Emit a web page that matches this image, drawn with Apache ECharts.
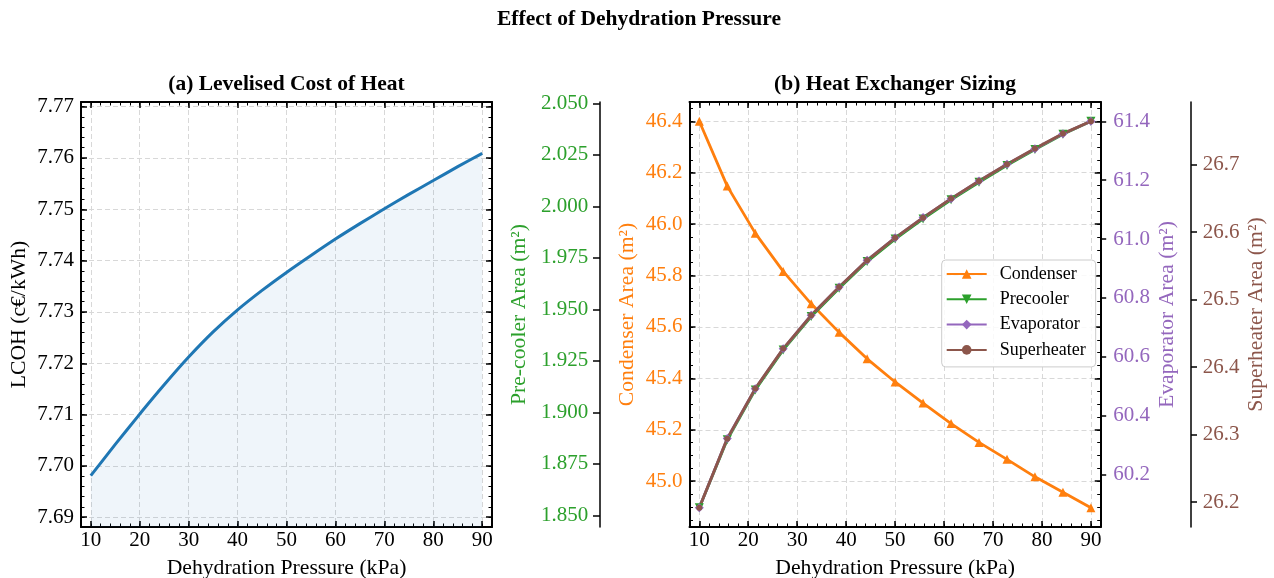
<!DOCTYPE html>
<html>
<head>
<meta charset="utf-8">
<title>Effect of Dehydration Pressure</title>
<script src="https://cdn.jsdelivr.net/npm/echarts@6/dist/echarts.min.js"></script>
<style>
  html, body { margin: 0; padding: 0; background: #ffffff; }
  #chart { width: 1274px; height: 578px; }
</style>
</head>
<body>
<div id="chart"></div>
<script>
// ---- data -------------------------------------------------------------
const pressureTicks = [10, 20, 30, 40, 50, 60, 70, 80, 90];

// (a) levelised cost of heat, c€/kWh
const lcohPressure = [10, 15, 20, 25, 30, 35, 40, 45, 50, 55, 60, 65, 70, 75, 80, 85, 90];
const lcohValues = [7.6981, 7.7042, 7.7101, 7.7158, 7.7212, 7.7261, 7.7304, 7.7342, 7.7377,
                    7.7410, 7.7442, 7.7472, 7.7501, 7.7529, 7.7556, 7.7583, 7.7609];
const lcohTicks = [7.69, 7.70, 7.71, 7.72, 7.73, 7.74, 7.75, 7.76, 7.77];

// (b) heat exchanger areas, m²
const hxPressure = [10, 15.71, 21.43, 27.14, 32.86, 38.57, 44.29, 50, 55.71, 61.43, 67.14, 72.86, 78.57, 84.29, 90];
const condenserArea = [46.400, 46.148, 45.965, 45.816, 45.690, 45.579, 45.476, 45.386,
                       45.304, 45.224, 45.151, 45.085, 45.017, 44.957, 44.897];
const precoolerArea = [1.8537, 1.8867, 1.9109, 1.9303, 1.9465, 1.9602, 1.9732, 1.9841,
                       1.9939, 2.0032, 2.0117, 2.0199, 2.0276, 2.0350, 2.0413];
const evaporatorArea = [60.087, 60.322, 60.491, 60.627, 60.741, 60.837, 60.928, 61.004,
                        61.073, 61.137, 61.197, 61.254, 61.307, 61.358, 61.400];
const superheaterArea = [26.1916, 26.2939, 26.3680, 26.4273, 26.4766, 26.5185, 26.5581, 26.5914,
                         26.6213, 26.6495, 26.6756, 26.7003, 26.7236, 26.7458, 26.7640];

const condenserTicks = [45.0, 45.2, 45.4, 45.6, 45.8, 46.0, 46.2, 46.4];
const precoolerTicks = [1.850, 1.875, 1.900, 1.925, 1.950, 1.975, 2.000, 2.025, 2.050];
const evaporatorTicks = [60.2, 60.4, 60.6, 60.8, 61.0, 61.2, 61.4];
const superheaterTicks = [26.2, 26.3, 26.4, 26.5, 26.6, 26.7];

// ---- styling ----------------------------------------------------------
const SERIF = '"Liberation Serif", "Times New Roman", "DejaVu Serif", serif';
const C_BLUE = '#1f77b4', C_ORANGE = '#ff7f0e', C_GREEN = '#2ca02c',
      C_PURPLE = '#9467bd', C_BROWN = '#8c564b';
const TICK_FONT = 21, NAME_FONT = 21.7, TITLE_FONT = 21.5;
const GRID_LINE = { show: true, lineStyle: { color: '#d8d8d8', width: 1, type: [5, 3] } };
const X_MIN = 8, X_MAX = 92;

function zip(xs, ys) { return xs.map((x, i) => [x, ys[i]]); }
function padRange(values, frac) {
  const lo = Math.min(...values), hi = Math.max(...values), d = (hi - lo) * frac;
  return [lo - d, hi + d];
}
// evenly spaced tick positions lying inside [lo, hi]
function stepsWithin(lo, hi, step) {
  const out = [];
  const start = Math.ceil(lo / step - 1e-9);
  const end = Math.floor(hi / step + 1e-9);
  for (let k = start; k <= end; k++) out.push(+(k * step).toFixed(6));
  return out;
}

const lcohRange = [Math.min(...lcohValues) - 0.01, Math.max(...lcohValues) + 0.01];
const condRange = padRange(condenserArea, 0.05);
const preRange = padRange(precoolerArea, 0.05);
const evapRange = padRange(evaporatorArea, 0.05);
const superRange = padRange(superheaterArea, 0.05);

// a bare axis sharing a grid, used for extra tick rows and spines
function bareAxis(extra) {
  return Object.assign({
    type: 'value', scale: true,
    axisLine: { show: false, onZero: false },
    axisTick: { show: false },
    axisLabel: { show: false },
    splitLine: { show: false }
  }, extra);
}
function spine(width) { return { show: true, onZero: false, lineStyle: { color: '#000', width: width || 2 } }; }
function inTicks(values, len, w) {
  return { show: true, inside: true, length: len, customValues: values, lineStyle: { color: '#000', width: w } };
}
function outTicks(values, len) {
  return { show: true, inside: false, length: len, customValues: values, lineStyle: { color: '#000', width: 1.5 } };
}
function tickLabels(values, digits, color, margin) {
  return {
    show: true, customValues: values, margin: margin, color: color,
    fontFamily: SERIF, fontSize: TICK_FONT,
    formatter: v => Number(v).toFixed(digits)
  };
}
function nameStyle(color) { return { color: color, fontFamily: SERIF, fontSize: NAME_FONT }; }

const minorX = stepsWithin(X_MIN, X_MAX, 2);

// four x axes per panel: bottom major/minor, top major/minor
function panelXAxes(g) {
  return [
    bareAxis({
      gridIndex: g, position: 'bottom', min: X_MIN, max: X_MAX,
      axisLine: spine(2), axisTick: inTicks(pressureTicks, 6, 1.5),
      axisLabel: tickLabels(pressureTicks, 0, '#000', 3),
      splitLine: GRID_LINE,
      name: 'Dehydration Pressure (kPa)', nameLocation: 'middle', nameGap: 30,
      nameTextStyle: nameStyle('#000'), nameMoveOverlap: false
    }),
    bareAxis({ gridIndex: g, position: 'bottom', min: X_MIN, max: X_MAX, axisTick: inTicks(minorX, 3.5, 1) }),
    bareAxis({ gridIndex: g, position: 'top', min: X_MIN, max: X_MAX, axisLine: spine(2), axisTick: inTicks(pressureTicks, 6, 1.5) }),
    bareAxis({ gridIndex: g, position: 'top', min: X_MIN, max: X_MAX, axisTick: inTicks(minorX, 3.5, 1) })
  ];
}

const lcohMinor = stepsWithin(lcohRange[0], lcohRange[1], 0.002);
const condMinor = stepsWithin(condRange[0], condRange[1], 0.05);

const yAxes = [
  // 0-3: panel (a)
  bareAxis({
    gridIndex: 0, position: 'left', min: lcohRange[0], max: lcohRange[1],
    axisLine: spine(2), axisTick: inTicks(lcohTicks, 6, 1.5),
    axisLabel: tickLabels(lcohTicks, 2, '#000', 7),
    splitLine: GRID_LINE,
    name: 'LCOH (c€/kWh)', nameLocation: 'middle', nameGap: 51,
    nameTextStyle: nameStyle('#000'), nameMoveOverlap: false
  }),
  bareAxis({ gridIndex: 0, position: 'left', min: lcohRange[0], max: lcohRange[1], axisTick: inTicks(lcohMinor, 3.5, 1) }),
  bareAxis({ gridIndex: 0, position: 'right', min: lcohRange[0], max: lcohRange[1], axisLine: spine(2), axisTick: inTicks(lcohTicks, 6, 1.5) }),
  bareAxis({ gridIndex: 0, position: 'right', min: lcohRange[0], max: lcohRange[1], axisTick: inTicks(lcohMinor, 3.5, 1) }),
  // 4-7: panel (b) condenser scale, with its mirror on the right spine
  bareAxis({
    gridIndex: 1, position: 'left', min: condRange[0], max: condRange[1],
    axisLine: spine(2), axisTick: inTicks(condenserTicks, 6, 1.5),
    axisLabel: tickLabels(condenserTicks, 1, C_ORANGE, 7),
    splitLine: GRID_LINE,
    name: 'Condenser Area (m²)', nameLocation: 'middle', nameGap: 51,
    nameTextStyle: nameStyle(C_ORANGE), nameMoveOverlap: false
  }),
  bareAxis({ gridIndex: 1, position: 'left', min: condRange[0], max: condRange[1], axisTick: inTicks(condMinor, 3.5, 1) }),
  bareAxis({ gridIndex: 1, position: 'right', min: condRange[0], max: condRange[1], axisLine: spine(2), axisTick: inTicks(condenserTicks, 6, 1.5) }),
  bareAxis({ gridIndex: 1, position: 'right', min: condRange[0], max: condRange[1], axisTick: inTicks(condMinor, 3.5, 1) }),
  // 8: evaporator
  bareAxis({
    gridIndex: 1, position: 'right', min: evapRange[0], max: evapRange[1],
    axisTick: outTicks(evaporatorTicks, 5.5),
    axisLabel: tickLabels(evaporatorTicks, 1, C_PURPLE, 12.5),
    name: 'Evaporator Area (m²)', nameLocation: 'middle', nameGap: 56,
    nameTextStyle: nameStyle(C_PURPLE), nameMoveOverlap: false
  }),
  // 9: superheater, on its own spine further right
  bareAxis({
    gridIndex: 1, position: 'right', offset: 90.3, min: superRange[0], max: superRange[1],
    axisLine: spine(1.5), axisTick: outTicks(superheaterTicks, 6),
    axisLabel: tickLabels(superheaterTicks, 1, C_BROWN, 11.7),
    name: 'Superheater Area (m²)', nameLocation: 'middle', nameGap: 54,
    nameTextStyle: nameStyle(C_BROWN), nameMoveOverlap: false
  }),
  // 10: precooler, on its own spine further left
  bareAxis({
    gridIndex: 1, position: 'left', offset: 89.5, min: preRange[0], max: preRange[1],
    axisLine: spine(1.5), axisTick: outTicks(precoolerTicks, 7),
    axisLabel: tickLabels(precoolerTicks, 3, C_GREEN, 11.7),
    name: 'Pre-cooler Area (m²)', nameLocation: 'middle', nameGap: 70,
    nameTextStyle: nameStyle(C_GREEN), nameMoveOverlap: false
  })
];

function hxSeries(name, values, yIdx, color, symbol, size, rotate) {
  return {
    type: 'line', name: name, xAxisIndex: 4, yAxisIndex: yIdx,
    data: zip(hxPressure, values),
    symbol: symbol, symbolSize: size, symbolRotate: rotate || 0, showSymbol: true,
    lineStyle: { color: color, width: 2.8 },
    itemStyle: { color: color, borderWidth: 0 },
    emphasis: { disabled: true }
  };
}

const titleFont = 'bold ' + TITLE_FONT + 'px ' + SERIF;

const option = {
  animation: false,
  backgroundColor: '#ffffff',
  grid: [
    { left: 81, top: 102, width: 411, height: 425, containLabel: false, outerBoundsMode: 'none' },
    { left: 689.5, top: 102, width: 411.2, height: 425, containLabel: false, outerBoundsMode: 'none' }
  ],
  xAxis: panelXAxes(0).concat(panelXAxes(1)),
  yAxis: yAxes,
  legend: {
    data: ['Condenser', 'Precooler', 'Evaporator', 'Superheater'],
    orient: 'vertical', left: 941.7, top: 260,
    padding: [5, 10, 8, 4], itemGap: 7.3, itemWidth: 40, itemHeight: 12,
    backgroundColor: 'rgba(255,255,255,0.85)', borderColor: '#cccccc', borderWidth: 1, borderRadius: 4,
    textStyle: { fontFamily: SERIF, fontSize: 18, color: '#000', padding: [0, 0, 0, 8] },
    selectedMode: false
  },
  graphic: [
    { type: 'text', x: 639, y: 19, style: { text: 'Effect of Dehydration Pressure', fill: '#000',
      font: titleFont, textAlign: 'center', textVerticalAlign: 'middle' } },
    { type: 'text', x: 286.5, y: 84.5, style: { text: '(a) Levelised Cost of Heat', fill: '#000',
      font: titleFont, textAlign: 'center', textVerticalAlign: 'middle' } },
    { type: 'text', x: 895, y: 84.5, style: { text: '(b) Heat Exchanger Sizing', fill: '#000',
      font: titleFont, textAlign: 'center', textVerticalAlign: 'middle' } }
  ],
  series: [
    {
      type: 'line', name: 'LCOH', xAxisIndex: 0, yAxisIndex: 0,
      data: zip(lcohPressure, lcohValues),
      symbol: 'none', showSymbol: false,
      smooth: 0.2,
      lineStyle: { color: C_BLUE, width: 3 },
      itemStyle: { color: C_BLUE },
      areaStyle: { color: 'rgba(31,119,180,0.1)' },
      emphasis: { disabled: true }
    },
    hxSeries('Condenser', condenserArea, 4, C_ORANGE, 'triangle', 9),
    hxSeries('Precooler', precoolerArea, 10, C_GREEN, 'triangle', 9, 180),
    hxSeries('Evaporator', evaporatorArea, 8, C_PURPLE, 'diamond', 9),
    hxSeries('Superheater', superheaterArea, 9, C_BROWN, 'circle', 6)
  ]
};

const chart = echarts.init(document.getElementById('chart'), null, { renderer: 'canvas' });
chart.setOption(option);
</script>
</body>
</html>
